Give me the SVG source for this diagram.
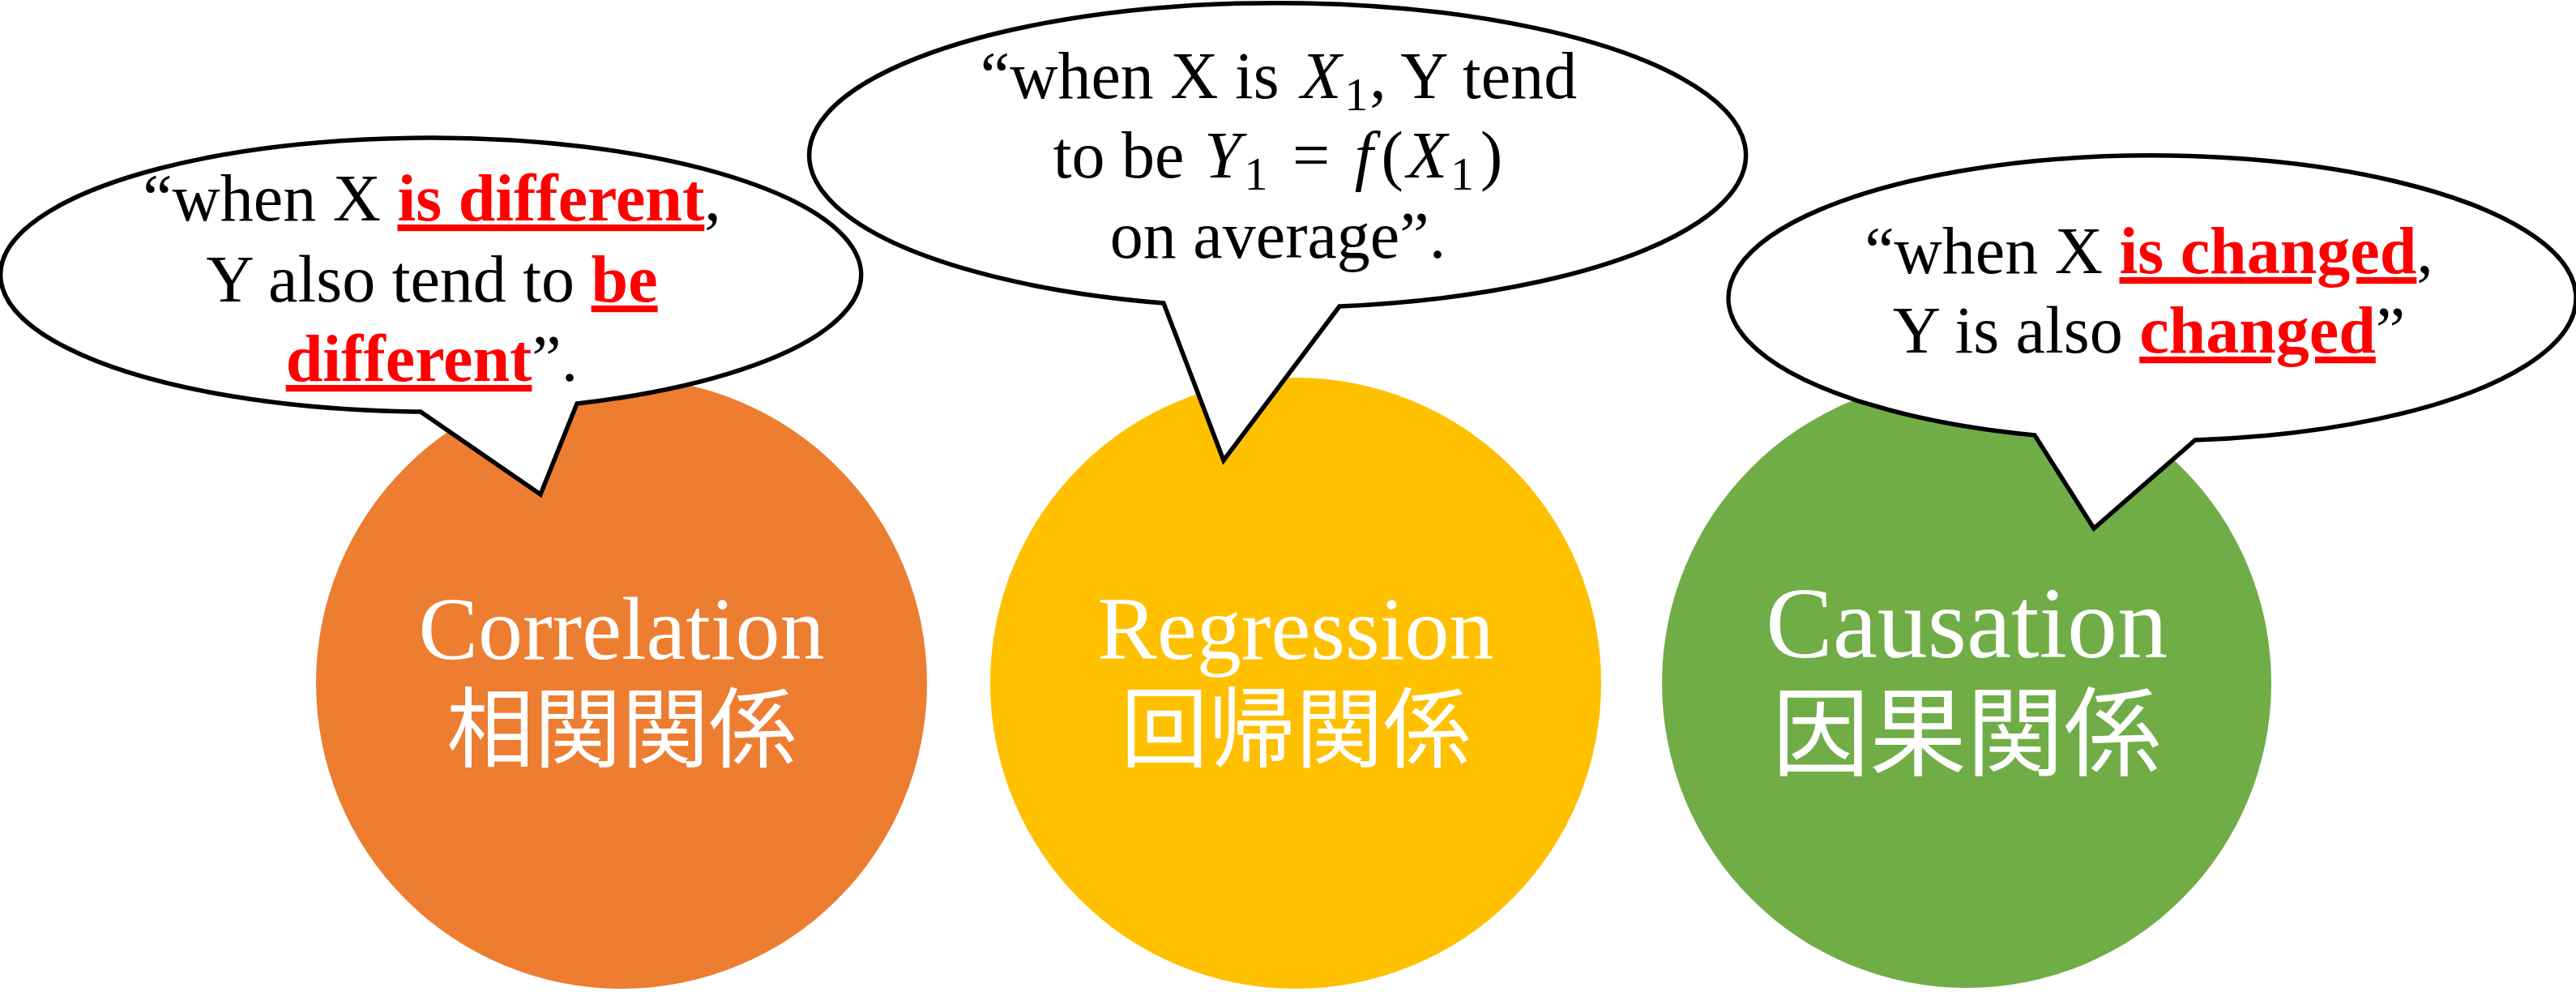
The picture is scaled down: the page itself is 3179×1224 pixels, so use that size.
<svg xmlns="http://www.w3.org/2000/svg" width="3179" height="1224" viewBox="0 0 3179 1224">
<style>
.bubble{fill:#ffffff;stroke:#000000;stroke-width:5.5;stroke-linejoin:miter}
.bt{font-family:"Liberation Serif","Times New Roman",serif;font-size:82px;fill:#000000;text-anchor:middle}
.em{font-weight:bold;fill:#ff0000;text-decoration:underline}
.it{font-style:italic}
.lat{font-family:"Liberation Serif","Times New Roman",serif;fill:#ffffff;text-anchor:middle}
.cjk{font-family:"Noto Sans CJK JP","Noto Sans CJK SC",sans-serif;fill:#ffffff;text-anchor:middle}
</style>
<rect width="3179" height="1224" fill="#ffffff"/>
<g id="correlation">
<circle cx="767" cy="843" r="377" fill="#ED7D31"/>
<text class="lat" x="767" y="813" font-size="110">Correlation</text>
<text class="cjk" x="767" y="938" font-size="108">相関関係</text>
</g>
<g id="regression">
<circle cx="1599" cy="843" r="377" fill="#FFC000"/>
<text class="lat" x="1599" y="813" font-size="110">Regression</text>
<text class="cjk" x="1599" y="938" font-size="108">回帰関係</text>
</g>
<g id="causation">
<circle cx="2427" cy="843" r="376" fill="#70AD47"/>
<text class="lat" x="2427" y="811" font-size="124">Causation</text>
<text class="cjk" x="2427" y="948" font-size="120">因果関係</text>
</g>
<g id="bubble-correlation">
<path class="bubble" d="M519,508 A531,169 0 1 1 712,498 L667,610 Z"/>
<text class="bt" x="533" y="272">“when X <tspan class="em">is different</tspan>,</text>
<text class="bt" x="533" y="372">Y also tend to <tspan class="em">be</tspan></text>
<text class="bt" x="533" y="470"><tspan class="em">different</tspan>”.</text>
</g>
<g id="bubble-regression">
<path class="bubble" d="M1436,374 A578,188 0 1 1 1653,378 L1510,568 Z"/>
<text class="bt" x="1578" y="121">“when X is <tspan class="it" dx="6">X</tspan><tspan font-size="58" dy="15" dx="4">1</tspan><tspan dy="-15" dx="2">, Y tend</tspan></text>
<text class="bt" x="1577" y="219">to be <tspan class="it" dx="4">Y</tspan><tspan font-size="58" dy="15" dx="4">1</tspan><tspan dy="-15" dx="10"> = </tspan><tspan class="it" dx="10">f</tspan><tspan dx="10">(</tspan><tspan class="it" dx="4">X</tspan><tspan font-size="58" dy="15" dx="4">1</tspan><tspan dy="-15" dx="8">)</tspan></text>
<text class="bt" x="1577" y="318">on average”.</text>
</g>
<g id="bubble-causation">
<path class="bubble" d="M2511,537 A523,176 0 1 1 2709,543 L2584,652 Z"/>
<text class="bt" x="2652" y="337">“when X <tspan class="em">is changed</tspan>,</text>
<text class="bt" x="2652" y="435">Y is also <tspan class="em">changed</tspan>”</text>
</g>
<g id="connectors"/>
</svg>
